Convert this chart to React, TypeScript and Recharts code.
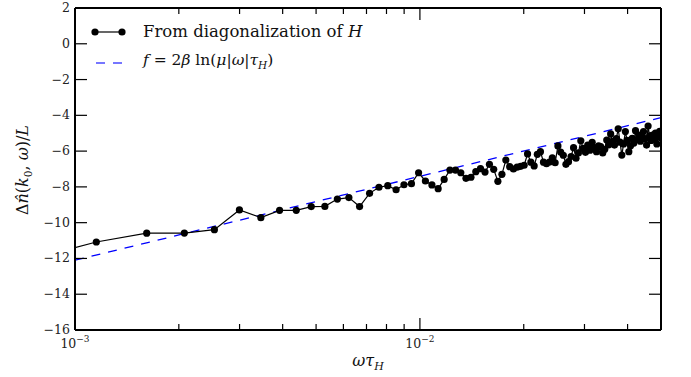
import React from 'react';
import { ComposedChart, Line, XAxis, YAxis } from 'recharts';

// omega * tau_H values of the diagonalization points
const omega = [
  0.000692, 0.001153, 0.001614, 0.002075, 0.002536, 0.002997, 0.003458, 0.003919, 0.00438, 0.004841,
  0.005302, 0.005763, 0.006224, 0.006685, 0.007146, 0.007607, 0.008068, 0.008529, 0.00899, 0.009451,
  0.009912, 0.010373, 0.010834, 0.011295, 0.011756, 0.012217, 0.012678, 0.013139, 0.0136, 0.014061,
  0.014522, 0.014983, 0.015444, 0.015905, 0.016366, 0.016827, 0.017288, 0.017749, 0.01821, 0.018671,
  0.019132, 0.019593, 0.020054, 0.020515, 0.020976, 0.021437, 0.021898, 0.022359, 0.02282, 0.023281,
  0.023742, 0.024203, 0.024664, 0.025125, 0.025586, 0.026047, 0.026508, 0.026969, 0.02743, 0.027891,
  0.028352, 0.028813, 0.029274, 0.029735, 0.030196, 0.030657, 0.031118, 0.031579, 0.03204, 0.032501,
  0.032962, 0.033423, 0.033884, 0.034345, 0.034806, 0.035267, 0.035728, 0.036189, 0.03665, 0.037111,
  0.037572, 0.038033, 0.038494, 0.038955, 0.039416, 0.039877, 0.040338, 0.040799, 0.04126, 0.041721,
  0.042182, 0.042643, 0.043104, 0.043565, 0.044026, 0.044487, 0.044948, 0.045409, 0.04587, 0.046331,
  0.046792, 0.047253, 0.047714, 0.048175, 0.048636, 0.049097, 0.049558, 0.04999,
];

// Delta n-hat(k0, omega) / L
const deltaN = [
  -12.2, -11.08, -10.59, -10.58, -10.39, -9.29, -9.72, -9.31, -9.31, -9.1,
  -9.09, -8.68, -8.6, -9.1, -8.36, -8.02, -7.93, -8.16, -7.88, -7.82,
  -7.21, -7.67, -7.89, -8.1, -7.58, -7.06, -7.06, -7.21, -7.52, -7.46,
  -7.15, -6.98, -7.17, -6.74, -7.02, -7.69, -7.3, -6.5, -6.87, -7.0,
  -6.9, -6.85, -6.79, -6.16, -6.62, -6.83, -6.18, -6.03, -6.62, -6.7,
  -6.61, -6.37, -6.65, -5.71, -6.05, -6.23, -6.74, -6.59, -6.3, -5.81,
  -6.4, -6.1, -5.42, -5.85, -6.07, -5.66, -5.95, -5.51, -5.8, -6.03,
  -5.7, -5.75, -6.1, -5.9, -5.38, -5.65, -5.04, -5.45, -5.66, -5.3,
  -4.75, -5.5, -6.22, -5.6, -4.91, -5.4, -6.03, -5.7, -5.29, -5.55,
  -4.86, -5.35, -5.1, -5.45, -5.2, -4.91, -5.3, -5.66, -4.6, -5.15,
  -5.4, -5.1, -5.35, -5.0, -5.6, -5.2, -4.9, -5.25,
];

// f = 2 beta ln(mu |omega| tau_H) read at the plot ends
const fitOmega = [0.001, 0.05];
const fitValues = [-12.1, -4.13];

const xMajorTicks = [0.001, 0.01];
const xMajorLabels = ['−3', '−2'];
const xMinorTicks = [0.002, 0.003, 0.004, 0.005, 0.006, 0.007, 0.008, 0.009, 0.02, 0.03, 0.04, 0.05];
const yTicks = [-16, -14, -12, -10, -8, -6, -4, -2, 0, 2];
const yTickLabels = ['−16', '−14', '−12', '−10', '−8', '−6', '−4', '−2', '0', '2'];

const dataPoints = omega.map((w, i) => ({ w, v: deltaN[i] }));
const fitPoints = fitOmega.map((w, i) => ({ w, f: fitValues[i] }));
const xTicks = [...xMajorTicks, ...xMinorTicks].sort((a, b) => a - b);

const FONT = '"DejaVu Serif", serif';
const W = 691;
const H = 377;

const isMajor = (v: number) => xMajorTicks.some((t) => Math.abs(t - v) < 1e-9);

const BottomTick = (props: any) => {
  const { x, y, payload } = props;
  const major = isMajor(payload.value);
  const len = major ? 12 : 6;
  const idx = xMajorTicks.findIndex((t) => Math.abs(t - payload.value) < 1e-9);
  return (
    <g>
      <line x1={x} x2={x} y1={y} y2={y - len} stroke="#000" strokeWidth={1.2} />
      {major && (
        <text x={x} y={y + 18} textAnchor="middle" fontFamily={FONT} fontSize={12.5} fill="#222">
          <tspan>10</tspan>
          <tspan dy={-6} fontSize={9}>{xMajorLabels[idx]}</tspan>
        </text>
      )}
    </g>
  );
};

const TopTick = (props: any) => {
  const { x, y, payload } = props;
  const len = isMajor(payload.value) ? 12 : 6;
  return <line x1={x} x2={x} y1={y} y2={y + len} stroke="#000" strokeWidth={1.2} />;
};

const LeftTick = (props: any) => {
  const { x, y, payload } = props;
  const idx = yTicks.indexOf(payload.value);
  return (
    <g>
      <line x1={x} x2={x + 12} y1={y} y2={y} stroke="#000" strokeWidth={1.2} />
      <text x={x - 5} y={y + 4} textAnchor="end" fontFamily={FONT} fontSize={12.5} fill="#222">
        {yTickLabels[idx]}
      </text>
    </g>
  );
};

const RightTick = (props: any) => {
  const { x, y } = props;
  return <line x1={x} x2={x - 12} y1={y} y2={y} stroke="#000" strokeWidth={1.2} />;
};

const LegendBox = () => (
  <div
    style={{
      position: 'absolute',
      left: 89,
      top: 17,
      fontFamily: FONT,
      fontSize: 16.5,
      color: '#111',
      lineHeight: '29px',
      whiteSpace: 'nowrap',
    }}
  >
    <div style={{ display: 'flex', alignItems: 'center' }}>
      <svg width={54} height={12}>
        <line x1={6} x2={33} y1={6} y2={6} stroke="#000" strokeWidth={1.2} />
        <circle cx={6} cy={6} r={3.6} fill="#000" />
        <circle cx={33} cy={6} r={3.6} fill="#000" />
      </svg>
      <span>
        From diagonalization of <i>H</i>
      </span>
    </div>
    <div style={{ display: 'flex', alignItems: 'center' }}>
      <svg width={54} height={12}>
        <line x1={7} x2={33} y1={6} y2={6} stroke="#4a4aff" strokeWidth={1.3} strokeDasharray="9 8" />
      </svg>
      <span style={{ fontSize: 15.5 }}>
        <i>f</i> = 2<i>β</i> ln(<i>μ</i>|<i>ω</i>|<i>τ</i>
        <sub style={{ fontSize: 10.5 }}>
          <i>H</i>
        </sub>
        )
      </span>
    </div>
  </div>
);

const YLabel = () => (
  <text
    transform="translate(28, 170) rotate(-90)"
    textAnchor="middle"
    fontFamily={FONT}
    fontSize={16}
    fill="#111"
  >
    <tspan>Δ</tspan>
    <tspan fontStyle="italic">n̂</tspan>
    <tspan>(</tspan>
    <tspan fontStyle="italic">k</tspan>
    <tspan dy={4} fontSize={10.5}>0</tspan>
    <tspan dy={-4}>, </tspan>
    <tspan fontStyle="italic">ω</tspan>
    <tspan>)/</tspan>
    <tspan fontStyle="italic">L</tspan>
  </text>
);

const XLabel = () => (
  <text x={368} y={366} textAnchor="middle" fontFamily={FONT} fontSize={16} fill="#111">
    <tspan fontStyle="italic">ωτ</tspan>
    <tspan dy={4} fontSize={11} fontStyle="italic">H</tspan>
  </text>
);

export default function App() {
  return (
    <div style={{ position: 'absolute', left: 0, top: 0, width: W, height: H, background: '#fff' }}>
      <ComposedChart width={W} height={H} margin={{ top: 0, right: 0, bottom: 0, left: 0 }}>
        <XAxis
          xAxisId="bottom"
          dataKey="w"
          type="number"
          scale="log"
          domain={[0.001, 0.05]}
          allowDataOverflow
          ticks={xTicks}
          interval={0}
          height={47}
          orientation="bottom"
          axisLine={{ stroke: '#000', strokeWidth: 2 }}
          tickLine={false}
          tickSize={0}
          tickMargin={0}
          tick={<BottomTick />}
        />
        <XAxis
          xAxisId="top"
          dataKey="w"
          type="number"
          scale="log"
          domain={[0.001, 0.05]}
          allowDataOverflow
          ticks={xTicks}
          interval={0}
          height={8}
          orientation="top"
          axisLine={{ stroke: '#000', strokeWidth: 2 }}
          tickLine={false}
          tickSize={0}
          tickMargin={0}
          tick={<TopTick />}
        />
        <YAxis
          yAxisId="left"
          type="number"
          domain={[-16, 2]}
          allowDataOverflow
          ticks={yTicks}
          interval={0}
          width={75}
          orientation="left"
          axisLine={{ stroke: '#000', strokeWidth: 2 }}
          tickLine={false}
          tickSize={0}
          tickMargin={0}
          tick={<LeftTick />}
        />
        <YAxis
          yAxisId="right"
          type="number"
          domain={[-16, 2]}
          allowDataOverflow
          ticks={yTicks}
          interval={0}
          width={30}
          orientation="right"
          axisLine={{ stroke: '#000', strokeWidth: 2 }}
          tickLine={false}
          tickSize={0}
          tickMargin={0}
          tick={<RightTick />}
        />
        <Line
          xAxisId="bottom"
          yAxisId="left"
          data={fitPoints}
          dataKey="f"
          type="linear"
          stroke="#0000ff"
          strokeWidth={1.3}
          strokeDasharray="9 8"
          dot={false}
          activeDot={false}
          isAnimationActive={false}
        />
        <Line
          xAxisId="bottom"
          yAxisId="left"
          data={dataPoints}
          dataKey="v"
          type="linear"
          stroke="#000"
          strokeWidth={1.2}
          dot={{ r: 3.6, fill: '#000', stroke: '#000', strokeWidth: 0 }}
          activeDot={false}
          isAnimationActive={false}
        />
        <YLabel />
        <XLabel />
      </ComposedChart>
      <LegendBox />
    </div>
  );
}
